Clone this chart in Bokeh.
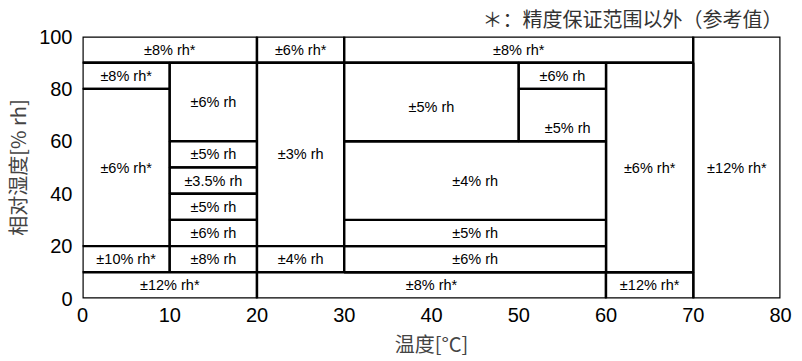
from bokeh.plotting import figure
from bokeh.models import ColumnDataSource, FixedTicker, Title
from bokeh.core.properties import value
from bokeh.embed import file_html
from bokeh.resources import INLINE

# Cells: temperature span (x0-x1), humidity span (y0-y1), accuracy label
x0 = [0, 20, 30, 70, 0, 0, 0, 10, 10, 10, 10, 10, 10, 0, 20, 20, 20, 60, 60, 30, 30, 30, 30, 50, 50]
x1 = [20, 30, 70, 80, 10, 10, 10, 20, 20, 20, 20, 20, 20, 20, 30, 30, 60, 70, 70, 60, 60, 60, 50, 60, 60]
y0 = [90, 90, 90, 0, 80, 20, 10, 60, 50, 40, 30, 20, 10, 0, 20, 10, 0, 0, 10, 10, 20, 30, 60, 80, 60]
y1 = [100, 100, 100, 100, 90, 80, 20, 90, 60, 50, 40, 30, 20, 10, 90, 20, 10, 10, 90, 20, 30, 60, 90, 90, 80]
labels = ["±8% rh*", "±6% rh*", "±8% rh*", "±12% rh*", "±8% rh*", "±6% rh*", "±10% rh*",
          "±6% rh", "±5% rh", "±3.5% rh", "±5% rh", "±6% rh", "±8% rh", "±12% rh*",
          "±3% rh", "±4% rh", "±8% rh*", "±12% rh*", "±6% rh*", "±6% rh", "±5% rh",
          "±4% rh", "±5% rh", "±6% rh", "±5% rh"]
# label positions (data units)
lx = [(a + b) / 2 for a, b in zip(x0, x1)]
ly = [(a + b) / 2 for a, b in zip(y0, y1)]
ly[22] = 73
lx[24] = 55.6
ly[24] = 65

x_ticks = [0, 10, 20, 30, 40, 50, 60, 70, 80]
y_ticks = [0, 20, 40, 60, 80, 100]

p = figure(width=802, height=361, x_range=(0, 80), y_range=(0, 100),
           output_backend="svg", toolbar_location=None,
           min_border_left=81, min_border_right=22, min_border_top=36, min_border_bottom=63)
p.grid.visible = False
p.outline_line_color = None
p.background_fill_color = "white"

src = ColumnDataSource(dict(left=x0, right=x1, bottom=y0, top=y1))
p.quad(left="left", right="right", bottom="bottom", top="top", source=src,
       fill_color="white", line_color="black", line_width=2.4)

tsrc = ColumnDataSource(dict(x=lx, y=ly, t=labels))
p.text(x="x", y="y", text="t", source=tsrc, text_align="center", text_baseline="middle",
       text_font_size="14.5px", text_font=value("Liberation Sans"), text_color="black")

for ax in (p.xaxis[0], p.yaxis[0]):
    ax.axis_line_color = None
    ax.major_tick_line_color = None
    ax.minor_tick_line_color = None
    ax.major_label_text_font = "Liberation Sans"
    ax.major_label_text_font_size = "20px"
    ax.major_label_text_color = "black"
    ax.axis_label_text_font = "Noto Sans CJK SC"
    ax.axis_label_text_font_size = "20px"
    ax.axis_label_text_font_style = "normal"
    ax.axis_label_text_color = "#444444"

p.xaxis.ticker = FixedTicker(ticks=x_ticks)
p.yaxis.ticker = FixedTicker(ticks=y_ticks)
p.xaxis.major_label_standoff = 3
p.yaxis.major_label_standoff = 4
p.xaxis.axis_label = "温度[°C]"
p.yaxis.axis_label = "相对湿度[% rh]"
p.xaxis.axis_label_standoff = 4
p.yaxis.axis_label_standoff = 4

note = Title(text="＊：精度保证范围以外（参考值）", align="right", text_font="Noto Sans CJK SC",
             text_font_size="20px", text_font_style="normal", text_color="#333333",
             standoff=4, offset=-2, vertical_align="top")
p.add_layout(note, "above")

open("out.html", "w").write(file_html(p, INLINE))
